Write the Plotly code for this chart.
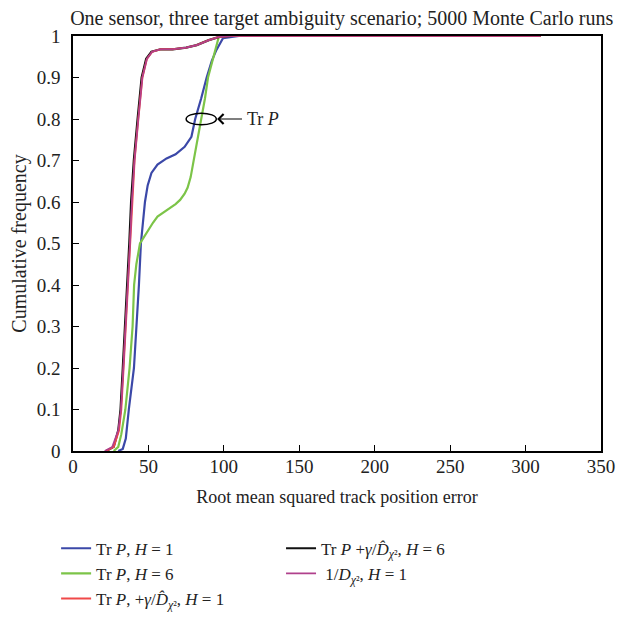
import plotly.graph_objects as go

# --- data (x = RMS track position error, y = cumulative frequency) ---
blue_x = [30, 33, 35, 37, 40.4, 42.3, 43.7, 45, 46.5, 47.7, 49.5, 52, 56, 62, 68, 74, 78.5, 81, 85, 88.6, 92, 95, 99.5, 110, 310]
blue_y = [0, 0.005, 0.03, 0.1, 0.2, 0.3, 0.4, 0.5, 0.56, 0.6, 0.64, 0.67, 0.69, 0.705, 0.715, 0.733, 0.757, 0.8, 0.85, 0.9, 0.94, 0.966, 0.995, 1, 1]

green_x = [27, 30, 32, 34.7, 37.5, 39.5, 40.5, 42, 44.4, 47.7, 50, 53, 56, 60, 64, 68, 71, 74, 76, 78, 79.5, 81, 83, 85.3, 87.5, 89.5, 93, 96.8, 110, 310]
green_y = [0, 0.01, 0.04, 0.1, 0.2, 0.3, 0.4, 0.45, 0.5, 0.52, 0.535, 0.55, 0.565, 0.575, 0.585, 0.595, 0.605, 0.62, 0.635, 0.66, 0.69, 0.72, 0.76, 0.8, 0.85, 0.9, 0.95, 1.0, 1, 1]

black_x = [22, 27, 30, 31.5, 33, 34.5, 36, 37.3, 38.5, 40.3, 42.8, 45.5, 48.5, 52, 58, 66, 75, 82, 90, 97, 105, 150, 310]
black_y = [0, 0.01, 0.05, 0.1, 0.2, 0.3, 0.4, 0.5, 0.6, 0.7, 0.8, 0.9, 0.945, 0.962, 0.968, 0.968, 0.972, 0.978, 0.99, 0.998, 1, 1, 1]

red_x = [22, 27, 30.5, 32, 33.5, 35, 36.5, 37.8, 39, 40.8, 43.3, 46, 49, 52.5, 58, 66, 75, 82, 90, 97, 105, 150, 310]
red_y = [0, 0.01, 0.05, 0.1, 0.2, 0.3, 0.4, 0.5, 0.6, 0.7, 0.8, 0.9, 0.945, 0.962, 0.968, 0.968, 0.972, 0.978, 0.99, 0.998, 1, 1, 1]

magenta_x = [21, 26, 30, 31.8, 33.4, 35, 36.4, 37.8, 39, 40.8, 43.3, 46, 49, 52.5, 58, 66, 75, 82, 90, 97, 105, 150, 310]
magenta_y = [0, 0.01, 0.05, 0.1, 0.2, 0.3, 0.4, 0.5, 0.6, 0.7, 0.8, 0.9, 0.945, 0.962, 0.968, 0.968, 0.972, 0.978, 0.99, 0.998, 1, 1, 1]

x_ticks = [0, 50, 100, 150, 200, 250, 300, 350]
y_ticks = [0, 0.1, 0.2, 0.3, 0.4, 0.5, 0.6, 0.7, 0.8, 0.9, 1]

DHAT = "<i>D\u0302</i><sub><i>\u03c7</i>\u00b2</sub>"
names = {
    "blue": "Tr <i>P</i>, <i>H</i> = 1",
    "green": "Tr <i>P</i>, <i>H</i> = 6",
    "red": "Tr <i>P</i>, +<i>\u03b3</i>/" + DHAT + ", <i>H</i> = 1",
    "black": "Tr <i>P</i> +<i>\u03b3</i>/" + DHAT + ", <i>H</i> = 6",
    "magenta": " 1/<i>D</i><sub><i>\u03c7</i>\u00b2</sub>, <i>H</i> = 1",
}

FONT = "Liberation Serif"
TXT = "#222"

fig = go.Figure()
fig.add_trace(go.Scatter(x=blue_x, y=blue_y, name=names["blue"], mode="lines", legendgroup="a",
                         line=dict(color="#3b48a8", width=2.2), legend="legend", legendrank=1))
fig.add_trace(go.Scatter(x=green_x, y=green_y, name=names["green"], mode="lines", legendgroup="b",
                         line=dict(color="#7cc448", width=2.2), legend="legend", legendrank=2))
fig.add_trace(go.Scatter(x=black_x, y=black_y, name=names["black"], mode="lines", legendgroup="d",
                         line=dict(color="#111111", width=2.2), legend="legend2", legendrank=1))
fig.add_trace(go.Scatter(x=red_x, y=red_y, name=names["red"], mode="lines", legendgroup="c",
                         line=dict(color="#f04848", width=2), legend="legend", legendrank=3))
fig.add_trace(go.Scatter(x=magenta_x, y=magenta_y, name=names["magenta"], mode="lines", legendgroup="e",
                         line=dict(color="#b0408c", width=1.6), legend="legend2", legendrank=2))

# "Tr P" callout: ellipse + arrow
fig.add_shape(type="circle", xref="x", yref="y", x0=75, x1=95, y0=0.786, y1=0.814,
              line=dict(color="black", width=1.5))
fig.add_annotation(x=95.5, y=0.8, ax=113, ay=0.8, axref="x", ayref="y", xref="x", yref="y",
                   text="", showarrow=True, arrowhead=4, arrowsize=1.6, arrowwidth=1.2,
                   arrowcolor="black")
fig.add_annotation(x=114, y=0.8, xref="x", yref="y", text="Tr <i>P</i>", showarrow=False,
                   xanchor="left", yanchor="middle", font=dict(size=18, color=TXT, family=FONT))

axis_common = dict(showline=True, linecolor="black", linewidth=1.5, mirror=True,
                   ticks="inside", ticklen=6, tickcolor="black", tickwidth=1.2,
                   showgrid=False, zeroline=False, automargin=True,
                   tickfont=dict(size=19, color=TXT, family=FONT))

legend_common = dict(xanchor="left", yanchor="top", bgcolor="rgba(0,0,0,0)",
                     font=dict(size=17, family=FONT, color=TXT), tracegroupgap=0)

# the page body adds an 8px offset, margins below compensate for it
fig.update_layout(
    width=625, height=617,
    margin=dict(l=65, r=32, t=28, b=174, autoexpand=False),
    paper_bgcolor="white", plot_bgcolor="white",
    font=dict(family=FONT, size=17, color=TXT),
    title=dict(text="One sensor, three target ambiguity scenario; 5000 Monte Carlo runs",
               x=0.534, xanchor="center", y=0.984, yanchor="middle",
               font=dict(size=20, family=FONT, color=TXT)),
    xaxis=dict(range=[0, 350], tickvals=x_ticks, ticklabelstandoff=-3,
               title=dict(text="Root mean squared track position error", standoff=15,
                          font=dict(size=18, family=FONT)),
               **axis_common),
    yaxis=dict(range=[0, 1], tickvals=y_ticks, ticklabelstandoff=7,
               title=dict(text="Cumulative frequency", standoff=12, font=dict(size=20, family=FONT)),
               **axis_common),
    legend=dict(x=-0.032, y=-0.192, **legend_common),
    legend2=dict(x=0.394, y=-0.192, **legend_common),
    showlegend=True,
)

fig.write_html("out.html")
